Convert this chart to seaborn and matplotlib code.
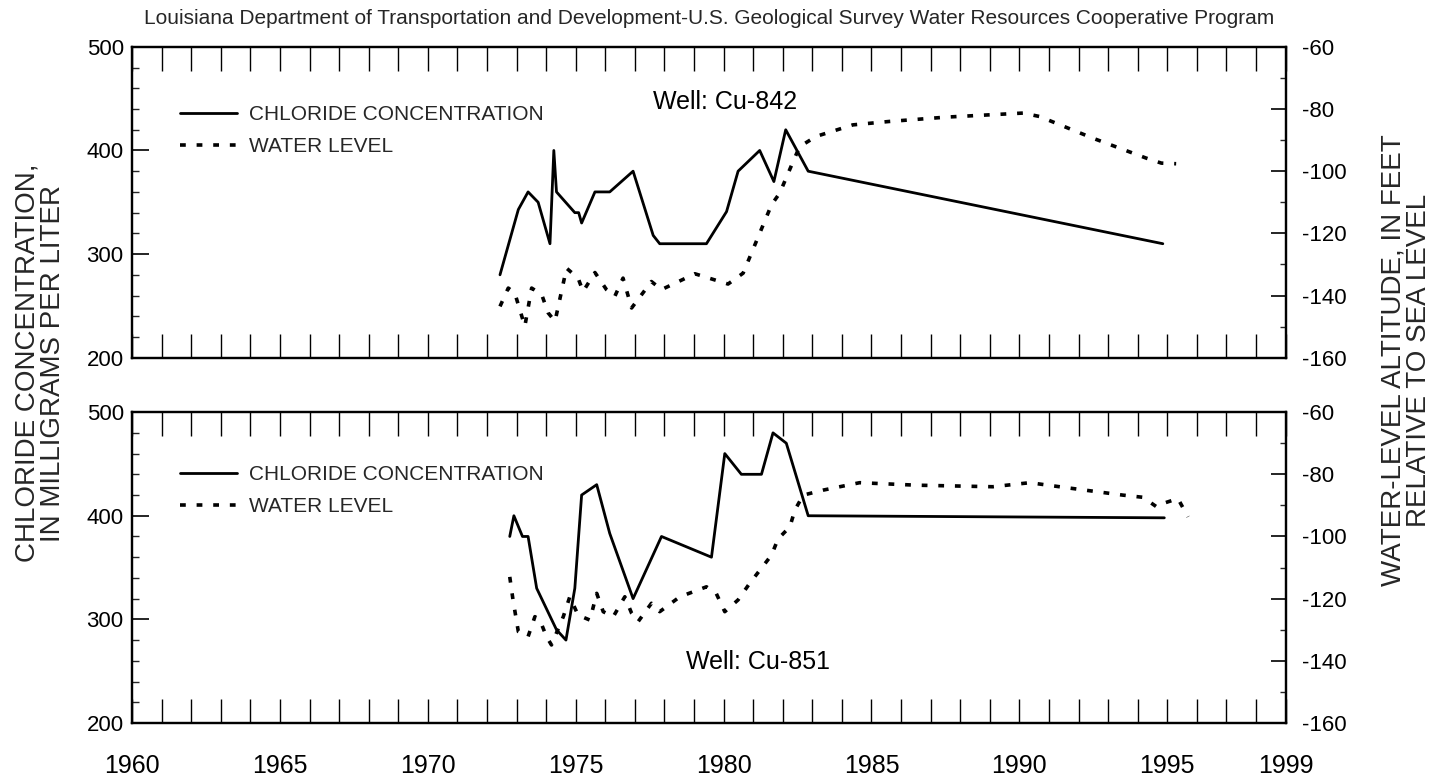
import numpy as np
import pandas as pd
import matplotlib
matplotlib.use("Agg")
import matplotlib.pyplot as plt
import seaborn as sns
from matplotlib.ticker import MultipleLocator, FixedLocator

# ---------------- data ----------------
title_text = ("Louisiana Department of Transportation and Development-U.S. Geological "
              "Survey Water Resources Cooperative Program")
left_label = "CHLORIDE CONCENTRATION,\nIN MILLIGRAMS PER LITER"
right_label = "WATER-LEVEL ALTITUDE, IN FEET\nRELATIVE TO SEA LEVEL"
legend_labels = ["CHLORIDE CONCENTRATION", "WATER LEVEL"]
well_names = ["Well: Cu-842", "Well: Cu-851"]
year_ticks = [1960, 1965, 1970, 1975, 1980, 1985, 1990, 1995, 1999]
cl_ticks = [200, 300, 400, 500]
wl_ticks = [-60, -80, -100, -120, -140, -160]

top_cl_year = [1972.44, 1973.06, 1973.39, 1973.73, 1974.13, 1974.26, 1974.35, 1974.97,
               1975.10, 1975.20, 1975.65, 1976.15, 1976.94, 1977.62, 1977.84, 1979.42,
               1980.10, 1980.49, 1981.22, 1981.70, 1982.10, 1982.86, 1994.85]
top_cl = [280, 343, 360, 350, 310, 400, 360, 340, 340, 330, 360, 360, 380, 318, 310, 310,
          341, 380, 400, 370, 420, 380, 310]

top_wl_year = [1972.44, 1972.72, 1972.94, 1973.28, 1973.51, 1973.85, 1974.07, 1974.30,
               1974.46, 1974.69, 1975.08, 1975.25, 1975.65, 1976.04, 1976.32, 1976.60,
               1976.89, 1977.56, 1977.90, 1979.03, 1980.15, 1980.66, 1981.62, 1981.90,
               1982.35, 1982.57, 1983.13, 1984.37, 1985.60, 1987.53, 1990.12, 1990.68,
               1992.49, 1994.29, 1994.80, 1995.30]
top_wl = [-143.5, -137.6, -139.2, -149.9, -137.6, -139.7, -145.6, -148.3, -141.3, -131.2,
          -134.4, -138.7, -132.6, -138.1, -140.3, -134.4, -144.0, -135.5, -138.1, -133.0,
          -136.3, -132.8, -110.8, -107.0, -96.9, -92.1, -88.8, -85.1, -84.0, -82.6,
          -81.3, -82.4, -89.4, -95.8, -97.4, -97.6]

bot_cl_year = [1972.77, 1972.91, 1973.20, 1973.39, 1973.68, 1974.35, 1974.67, 1974.97,
               1975.20, 1975.71, 1976.15, 1976.94, 1977.90, 1979.59, 1980.04, 1980.60,
               1981.28, 1981.67, 1982.12, 1982.86, 1994.90]
bot_cl = [380, 400, 380, 380, 330, 290, 280, 330, 420, 430, 383, 320, 380, 360, 460, 440,
          440, 480, 470, 400, 398]

bot_wl_year = [1972.77, 1972.88, 1973.06, 1973.39, 1973.62, 1973.79, 1974.01, 1974.18,
               1974.58, 1974.80, 1975.08, 1975.48, 1975.71, 1975.93, 1976.27, 1976.66,
               1976.89, 1977.11, 1977.56, 1977.84, 1978.52, 1979.42, 1979.75, 1980.04,
               1980.49, 1980.88, 1981.62, 1981.84, 1982.24, 1982.41, 1982.69, 1983.36,
               1984.60, 1986.51, 1989.10, 1990.35, 1991.59, 1993.50, 1994.18, 1994.63,
               1994.85, 1995.36, 1995.70]
bot_wl = [-113.0, -120.4, -130.6, -132.2, -125.8, -126.9, -132.2, -134.9, -125.8, -119.4,
          -125.3, -126.9, -118.3, -124.2, -125.8, -119.4, -124.7, -127.4, -121.5, -124.2,
          -119.4, -116.2, -118.3, -124.2, -120.4, -115.1, -106.0, -100.8, -96.9, -91.5,
          -86.7, -85.1, -82.7, -83.5, -84.0, -82.7, -84.3, -86.7, -87.4, -90.4, -89.4,
          -87.8, -93.7]

well_pos = [(1980.04, 447), (1981.16, 259)]

# ---------------- style ----------------
sns.set_theme(style="white")
plt.rcParams["font.family"] = ["Liberation Sans", "DejaVu Sans"]
plt.rcParams["axes.linewidth"] = 1.6

fig = plt.figure(figsize=(14.51, 7.81), dpi=100)
ax_top = fig.add_axes([0.091, 0.542, 0.795, 0.398])
ax_bot = fig.add_axes([0.091, 0.0743, 0.795, 0.398])

panels = [
    (ax_top, top_cl_year, top_cl, top_wl_year, top_wl, well_names[0], well_pos[0], 0.813),
    (ax_bot, bot_cl_year, bot_cl, bot_wl_year, bot_wl, well_names[1], well_pos[1], 0.829),
]

for i, (ax, cy, cv, wy, wv, wname, wpos, leg_y) in enumerate(panels):
    ax2 = ax.twinx()
    sns.lineplot(x=cy, y=cv, ax=ax, color="black", lw=2.0, estimator=None, sort=False,
                 label=legend_labels[0], legend=False)
    sns.lineplot(x=wy, y=wv, ax=ax2, color="black", lw=2.6, estimator=None, sort=False,
                 label=legend_labels[1], legend=False, dashes=False)
    for ln in ax2.get_lines():
        ln.set_dashes((1.6, 3.0))
        ln.set_dash_capstyle("butt")

    ax.set_xlim(1960, 1999)
    ax.set_ylim(200, 500)
    ax2.set_ylim(-160, -60)
    for a in (ax, ax2):
        a.set_facecolor("none")
        for sp in a.spines.values():
            sp.set_color("black")
            sp.set_linewidth(1.6)

    # x ticks every year
    ax.xaxis.set_major_locator(FixedLocator(list(range(1960, 2000))))
    if i == 1:
        ax.set_xticklabels([str(y) if y in year_ticks else "" for y in range(1960, 2000)],
                           fontsize=18)
    else:
        ax.set_xticklabels([])
    ax.tick_params(axis="x", which="major", direction="in", length=17, width=1.0,
                   top=True, bottom=True, pad=22, colors="black")

    # left ticks
    ax.set_yticks(cl_ticks)
    ax.set_yticklabels([str(v) for v in cl_ticks], fontsize=16)
    ax.yaxis.set_minor_locator(MultipleLocator(20))
    ax.tick_params(axis="y", which="major", direction="in", length=12, width=1.2,
                   left=True, right=False, pad=6, colors="black")
    ax.tick_params(axis="y", which="minor", direction="in", length=5, width=1.0,
                   left=True, right=False)

    # right ticks
    ax2.set_yticks(wl_ticks)
    ax2.set_yticklabels([str(v) for v in wl_ticks], fontsize=16)
    ax2.yaxis.set_minor_locator(MultipleLocator(10))
    ax2.tick_params(axis="y", which="major", direction="in", length=11, width=1.2,
                    right=True, left=False, pad=12, colors="black")
    ax2.tick_params(axis="y", which="minor", direction="in", length=4, width=1.0,
                    right=True, left=False)
    ax2.set_ylabel("")
    ax.set_ylabel("")
    ax.set_xlabel("")

    ax.text(wpos[0], wpos[1], wname, ha="center", va="center", fontsize=18, color="black")

    h1 = ax.get_lines()[0]
    h2 = ax2.get_lines()[0]
    ax2.legend([h1, h2], legend_labels, loc="upper left", bbox_to_anchor=(0.0416, leg_y),
               frameon=False, fontsize=15, handlelength=2.75, handletextpad=0.55,
               labelspacing=0.62, borderpad=0, borderaxespad=0)

fig.text(0.489, 1 - 18 / 781, title_text, ha="center", va="center", fontsize=15)
fig.text(0.0276, 0.535, left_label, ha="center", va="center", rotation=90,
         fontsize=20, linespacing=0.95)
fig.text(0.969, 0.539, right_label, ha="center", va="center", rotation=90,
         fontsize=20, linespacing=0.95)

fig.savefig("out.png", dpi=100)
